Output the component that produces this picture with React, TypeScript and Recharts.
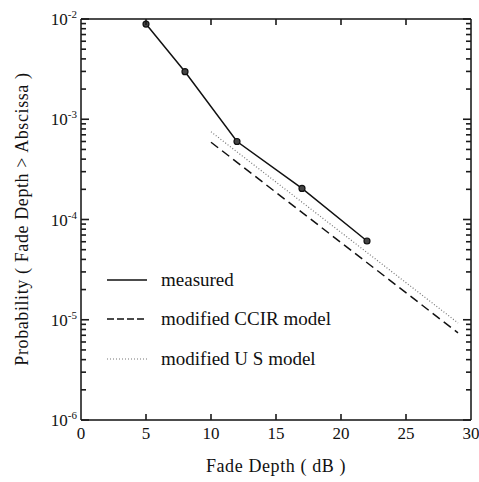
import React from "react";
import { LineChart, Line, XAxis, YAxis } from "recharts";

// measured points
const measuredX = [5, 8, 12, 17, 22];
const measuredY = [8.9e-3, 2.98e-3, 6.0e-4, 2.04e-4, 6.1e-5];

// model lines (straight on log scale, endpoints only)
const ccirX = [10, 29];
const ccirY = [5.9e-4, 7.4e-6];
const usX = [10, 29];
const usY = [7.5e-4, 9.3e-6];

const xTicks = [0, 5, 10, 15, 20, 25, 30];
const yMajor = [1e-6, 1e-5, 1e-4, 1e-3, 1e-2];
const yExp = ["-6", "-5", "-4", "-3", "-2"];
const minorMult = [2, 3, 4, 5, 6, 7, 8, 9];

const yTicks: number[] = [];
yMajor.forEach((m, i) => {
  yTicks.push(m);
  if (i < yMajor.length - 1) minorMult.forEach((k) => yTicks.push(k * m));
});

const measured = measuredX.map((x, i) => ({ x, y: measuredY[i] }));
const ccir = ccirX.map((x, i) => ({ x, y: ccirY[i] }));
const us = usX.map((x, i) => ({ x, y: usY[i] }));

const FONT = '"Liberation Serif", "Times New Roman", serif';
const INK = "#111";
const TICK = "#1a1a1a";
const TW = 1.6;

function majorIndex(v: number) {
  return yMajor.findIndex((m) => Math.abs(v - m) / m < 1e-6);
}

const leftTick = (props: any) => {
  const { x, y, payload } = props;
  const idx = majorIndex(payload.value);
  const len = idx >= 0 ? 8 : 5;
  return (
    <g>
      <line x1={x} x2={x + len} y1={y} y2={y} stroke={TICK} strokeWidth={TW} />
      {idx >= 0 && (
        <text x={x - 4} y={y + 6} textAnchor="end" fontFamily={FONT} fontSize={17} fill={INK}>
          10
          <tspan dy={-7} fontSize={11}>
            {yExp[idx]}
          </tspan>
        </text>
      )}
    </g>
  );
};

const rightTick = (props: any) => {
  const { x, y, payload } = props;
  const len = majorIndex(payload.value) >= 0 ? 8 : 5;
  return <line x1={x} x2={x - len} y1={y} y2={y} stroke={TICK} strokeWidth={TW} />;
};

const bottomTick = (props: any) => {
  const { x, y, payload } = props;
  const v = payload.value;
  const inner = v > 0 && v < 30;
  return (
    <g>
      {inner && <line x1={x} x2={x} y1={y} y2={y - 6} stroke={TICK} strokeWidth={TW} />}
      <text x={x} y={y + 19} textAnchor="middle" fontFamily={FONT} fontSize={17} fill={INK}>
        {v}
      </text>
    </g>
  );
};

const topTick = (props: any) => {
  const { x, y, payload } = props;
  const v = payload.value;
  if (v <= 0 || v >= 30) return <g />;
  return <line x1={x} x2={x} y1={y} y2={y + 6} stroke={TICK} strokeWidth={TW} />;
};

const legendItems = [
  { name: "measured", dash: undefined, width: 1.5, color: INK },
  { name: "modified CCIR model", dash: "7 3", width: 1.5, color: INK },
  { name: "modified U S model", dash: "1 2", width: 1.2, color: "#777" },
];

function LegendBox() {
  return (
    <div
      style={{
        position: "absolute",
        left: 107,
        top: 260,
        width: 260,
        fontFamily: FONT,
        fontSize: 19,
        color: INK,
      }}
    >
      {legendItems.map((it) => (
        <div key={it.name} style={{ display: "flex", alignItems: "center", height: 39.5 }}>
          <svg width={40} height={10} style={{ marginRight: 14 }}>
            <line
              x1={0}
              x2={40}
              y1={5}
              y2={5}
              stroke={it.color}
              strokeWidth={it.width}
              strokeDasharray={it.dash}
            />
          </svg>
          <span>{it.name}</span>
        </div>
      ))}
    </div>
  );
}

function Titles() {
  const common: React.CSSProperties = {
    position: "absolute",
    fontFamily: FONT,
    fontSize: 18,
    letterSpacing: 0.6,
    color: INK,
    whiteSpace: "nowrap",
    lineHeight: "20px",
  };
  return (
    <>
      <div style={{ ...common, left: 81, width: 390, top: 456, textAlign: "center" }}>
        Fade Depth ( dB )
      </div>
      <div
        style={{
          ...common,
          left: 22 - 200,
          top: 219 - 10,
          width: 400,
          textAlign: "center",
          transform: "rotate(-90deg)",
          transformOrigin: "50% 50%",
        }}
      >
        Probability ( Fade Depth &gt; Abscissa )
      </div>
    </>
  );
}

export default function App() {
  return (
    <div style={{ position: "absolute", left: 0, top: 0, width: 479, height: 482, background: "#fff" }}>
      <LineChart width={479} height={482} margin={{ top: 18, right: 7, bottom: 0, left: 0 }}>
        <XAxis
          xAxisId="b"
          type="number"
          dataKey="x"
          domain={[0, 30]}
          ticks={xTicks}
          interval={0}
          height={62}
          tickSize={0}
          tickMargin={0}
          tickLine={false}
          axisLine={{ stroke: INK, strokeWidth: 1.5 }}
          tick={bottomTick}
          allowDataOverflow
        />
        <XAxis
          xAxisId="t"
          orientation="top"
          type="number"
          dataKey="x"
          domain={[0, 30]}
          ticks={xTicks}
          interval={0}
          height={1}
          tickSize={0}
          tickMargin={0}
          tickLine={false}
          axisLine={{ stroke: INK, strokeWidth: 1.5 }}
          tick={topTick}
          allowDataOverflow
        />
        <YAxis
          yAxisId="l"
          type="number"
          scale="log"
          domain={[1e-6, 1e-2]}
          ticks={yTicks}
          interval={0}
          width={81}
          tickSize={0}
          tickMargin={0}
          tickLine={false}
          axisLine={{ stroke: INK, strokeWidth: 1.5 }}
          tick={leftTick}
          allowDataOverflow
        />
        <YAxis
          yAxisId="r"
          orientation="right"
          type="number"
          scale="log"
          domain={[1e-6, 1e-2]}
          ticks={yTicks}
          interval={0}
          width={1}
          tickSize={0}
          tickMargin={0}
          tickLine={false}
          axisLine={{ stroke: INK, strokeWidth: 1.5 }}
          tick={rightTick}
          allowDataOverflow
        />
        <Line
          xAxisId="b"
          yAxisId="l"
          data={us}
          dataKey="y"
          stroke="#777"
          strokeWidth={1.2}
          strokeDasharray="1 2"
          dot={false}
          isAnimationActive={false}
        />
        <Line
          xAxisId="b"
          yAxisId="l"
          data={ccir}
          dataKey="y"
          stroke={INK}
          strokeWidth={1.5}
          strokeDasharray="9 5"
          dot={false}
          isAnimationActive={false}
        />
        <Line
          xAxisId="b"
          yAxisId="l"
          data={measured}
          dataKey="y"
          stroke={INK}
          strokeWidth={1.5}
          dot={{ r: 3, fill: "#444", stroke: INK, strokeWidth: 1.2 }}
          isAnimationActive={false}
        />
      </LineChart>
      <Titles />
      <LegendBox />
    </div>
  );
}
